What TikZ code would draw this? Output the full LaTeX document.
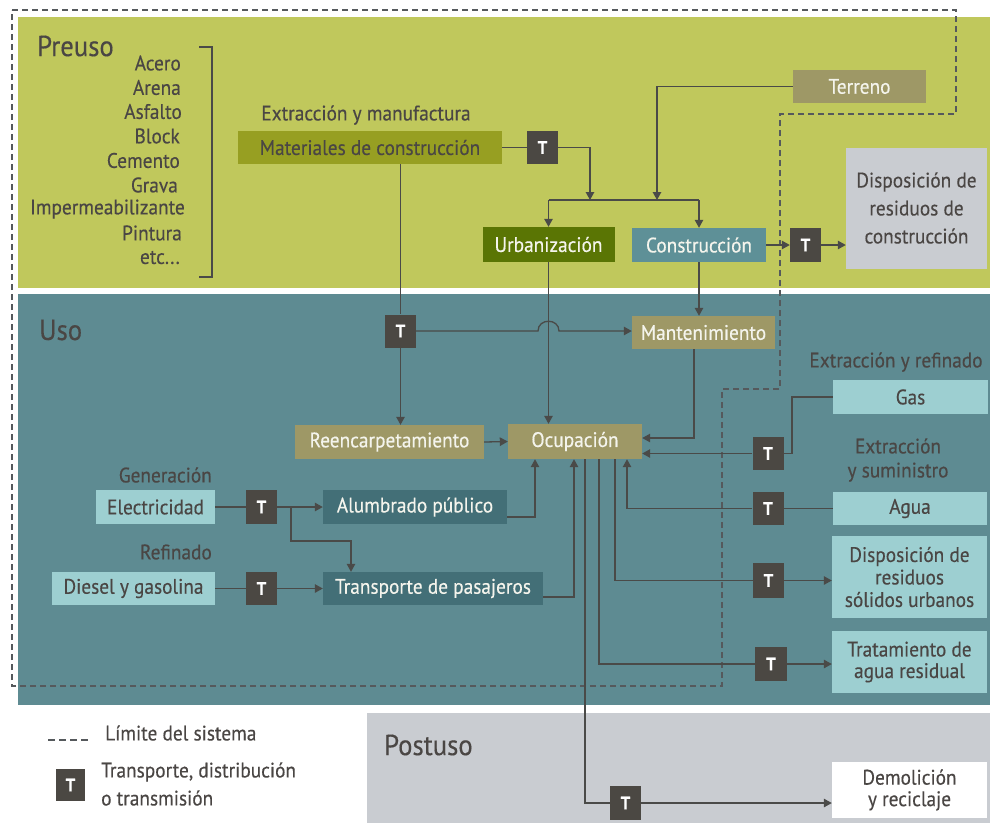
\documentclass[tikz,border=0pt]{standalone}
\usepackage{fontspec}
\setmainfont[FakeStretch=0.92,FakeBold=0.35]{PT Sans}
\usetikzlibrary{arrows.meta}

\definecolor{preuso}{HTML}{C0C85C}
\definecolor{uso}{HTML}{5E8B92}
\definecolor{postuso}{HTML}{C9CCD1}
\definecolor{olive}{HTML}{979F22}
\definecolor{darkgreen}{HTML}{5A7504}
\definecolor{khaki}{HTML}{9E9866}
\definecolor{tealbox}{HTML}{5E9097}
\definecolor{darkteal}{HTML}{436F77}
\definecolor{lightteal}{HTML}{9DCFD1}
\definecolor{tgray}{HTML}{4B4843}
\definecolor{lgray}{HTML}{4A4A48}
\definecolor{ink}{HTML}{4A4644}
\definecolor{paper}{HTML}{F4F4EC}
\definecolor{bound}{HTML}{55595C}

\newcommand\fsz{\fontsize{21}{24}\selectfont}
\newcommand\tsz{\fontsize{18}{20}\selectfont\bfseries}
\newcommand\hsz{\fontsize{29}{32}\selectfont}

\begin{document}
\begin{tikzpicture}[x=1pt,y=-1pt,
  line/.style={draw=lgray, line width=1.3pt},
  arr/.style={line, -{Triangle[length=8pt,width=8.5pt]}},
  lbl/.style={font=\fsz, text=ink, inner sep=0pt},
  title/.style={font=\hsz, text=ink, inner sep=0pt, anchor=west},
  box/.style={rectangle, inner sep=0pt, font=\fsz, align=center},
  darktext/.style={box, text=ink},
  lighttext/.style={box, text=paper},
  tbox/.style={rectangle, inner sep=0pt, fill=tgray, text=white, font=\tsz,
    minimum width=31, minimum height=33},
  boundary/.style={draw=bound, line width=1.3pt, dash pattern=on 6pt off 4pt}
]
\useasboundingbox (0,0) rectangle (992,823);

% stage backgrounds
\fill[preuso] (18,17) rectangle (990,288);
\fill[uso] (18,294) rectangle (990,705);
\fill[postuso] (367,713) rectangle (990,823);

% system boundary
\draw[boundary] (12,10) -- (956,10) -- (956,114) -- (780,114) -- (780,389)
  -- (722,389) -- (722,686) -- (12,686) -- cycle;

% stage titles
\node[title] (preusoL) at (37,46) {Preuso};
\node[title] (usoL) at (39,330) {Uso};
\node[title] (postusoL) at (384,745) {Postuso};

% construction materials list
\node[lbl,anchor=east] (m0) at (181,63) {Acero};
\node[lbl,anchor=east] (m1) at (181,87.5) {Arena};
\node[lbl,anchor=east] (m2) at (182,111.5) {Asfalto};
\node[lbl,anchor=east] (m3) at (180,136) {Block};
\node[lbl,anchor=east] (m4) at (180,160.5) {Cemento};
\node[lbl,anchor=east] (m5) at (178,185) {Grava};
\node[lbl,anchor=east] (m6) at (185,209) {Impermeabilizante};
\node[lbl,anchor=east] (m7) at (182,233) {Pintura};
\node[lbl,anchor=east] (m8) at (180,257.5) {etc...};
\draw[line] (199,47) -- (212,47) -- (212,277) -- (199,277);

% pre-use stage
\node[lbl] (extman) at (366,115) {Extracción y manufactura};
\node[darktext, fill=olive, minimum width=264, minimum height=33] (mat) at (370,147.5) {Materiales de construcción};
\node[tbox] (t1) at (542.5,147.5) {T};
\node[lighttext, fill=khaki, minimum width=133, minimum height=33] (terreno) at (859.5,86.5) {Terreno};
\node[lighttext, fill=darkgreen, minimum width=132, minimum height=35] (urb) at (548.5,244.5) {Urbanización};
\node[lighttext, fill=tealbox, minimum width=134, minimum height=34] (constr) at (699,245) {Construcción};
\node[tbox, minimum height=34] (t2) at (805.5,245) {T};
\node[darktext, fill=postuso, minimum width=141, minimum height=121,
  font=\fontsize{21}{28}\selectfont] (dispc) at (916.5,208) {Disposición de\\residuos de\\construcción};

% use stage
\node[tbox] (t3) at (400.5,331) {T};
\node[lighttext, fill=khaki, minimum width=143, minimum height=33] (mant) at (703.5,332.5) {Mantenimiento};
\node[lbl] (extref) at (896,362) {Extracción y refinado};
\node[darktext, fill=lightteal, minimum width=155, minimum height=34] (gas) at (910.5,397) {Gas};
\node[lighttext, fill=khaki, minimum width=189, minimum height=34] (reenc) at (389.5,442) {Reencarpetamiento};
\node[lighttext, fill=khaki, minimum width=134, minimum height=35] (ocup) at (575,441.5) {Ocupación};
\node[tbox] (tgas) at (768,453.5) {T};
\node[lbl, align=center, font=\fontsize{21}{24}\selectfont] (extsum) at (898,460) {Extracción\\y suministro};
\node[lbl, anchor=east] (gen) at (212,475) {Generación};
\node[darktext, fill=lightteal, minimum width=119, minimum height=34] (elec) at (155.5,507) {Electricidad};
\node[tbox, minimum height=34] (telec) at (261.5,507) {T};
\node[lighttext, fill=darkteal, minimum width=184, minimum height=34] (alum) at (415,507) {Alumbrado público};
\node[darktext, fill=lightteal, minimum width=154, minimum height=33] (agua) at (910,508.5) {Agua};
\node[tbox] (tagua) at (768,508.5) {T};
\node[lbl, anchor=east] (ref) at (212,552) {Refinado};
\node[darktext, fill=lightteal, minimum width=163, minimum height=33] (diesel) at (133.5,588.5) {Diesel y gasolina};
\node[tbox] (tdies) at (261.5,588.5) {T};
\node[lighttext, fill=darkteal, minimum width=220, minimum height=33] (transp) at (433,588.5) {Transporte de pasajeros};
\node[darktext, fill=lightteal, minimum width=155, minimum height=82,
  font=\fontsize{21}{22.5}\selectfont] (dispr) at (909.5,577) {Disposición de\\residuos\\sólidos urbanos};
\node[tbox, minimum height=35] (tdisp) at (768.5,580.5) {T};
\node[darktext, fill=lightteal, minimum width=155, minimum height=62,
  font=\fontsize{21}{21.5}\selectfont] (trat) at (909.5,662) {Tratamiento de\\agua residual};
\node[tbox, minimum width=32, minimum height=34] (ttrat) at (771,664) {T};

% post-use stage
\node[darktext, fill=white, minimum width=155, minimum height=56,
  font=\fontsize{21}{21.5}\selectfont] (demol) at (909.5,790) {Demolición\\y reciclaje};
\node[tbox, minimum height=34] (tdem) at (625.5,803) {T};

% legend
\draw[draw=bound, line width=1.3pt, dash pattern=on 7pt off 4pt] (48,740) -- (88,740);
\node[lbl, anchor=west] (legB) at (105,733) {Límite del sistema};
\node[tbox, minimum width=29, minimum height=32] (legT) at (70.5,785) {T};
\node[lbl, anchor=west, align=left, font=\fontsize{21}{28}\selectfont] (legTtext) at (101,784) {Transporte, distribución\\o transmisión};

% pre-use connectors
\coordinate (hl) at (548.5,200);
\coordinate (hr) at (699,200);
\coordinate (mj) at (590,200);
\coordinate (tj) at (657,200);
\draw[line] (mat.east) -- (t1.west);
\draw[arr] (t1.east) -| (mj);
\draw[arr] (terreno.west) -| (tj);
\draw[line] (hl) -- (hr);
\draw[arr] (hl) -- (urb.north);
\draw[arr] (hr) -- (constr.north);
\draw[arr] (constr.east) -- (t2.west);
\draw[arr] (t2.east) -- (t2.east -| dispc.west);

% use connectors
\draw[line] (t3.north |- mat.south) -- (t3.north);
\draw[arr] (t3.south) -- (t3.south |- reenc.north);
\draw[arr] (t3.east) -- (538,331) .. controls (538,318) and (559,318) .. (559,331) -- (mant.west |- t3.east);
\draw[arr] (constr.south) -- (constr.south |- mant.north);
\draw[arr] (urb.south) -- (urb.south |- ocup.north);
\coordinate (mk) at (694,438);
\draw[arr] (mant.south -| mk) -- (mk) -- (mk -| ocup.east);
\draw[arr] (reenc.east) -- (ocup.west);
\coordinate (gk) at (792,453.5);
\draw[line] (gas.west) -| (gk) -- (tgas.east);
\draw[arr] (tgas.west) -- (tgas.west -| ocup.east);
\coordinate (ak) at (627,508.5);
\draw[line] (agua.west) -- (tagua.east);
\draw[arr] (tagua.west) -- (ak) -- (ak |- ocup.south);
\coordinate (dk) at (615,580.5);
\draw[line] (dk |- ocup.south) -- (dk) -- (tdisp.west);
\draw[arr] (tdisp.east) -- (tdisp.east -| dispr.west);
\coordinate (rk) at (599,664);
\draw[line] (rk |- ocup.south) -- (rk) -- (ttrat.west);
\draw[arr] (ttrat.east) -- (ttrat.east -| trat.west);
\coordinate (ek) at (585,803);
\draw[line] (ek |- ocup.south) -- (ek) -- (tdem.west);
\draw[arr] (tdem.east) -- (tdem.east -| demol.west);

\draw[line] (elec.east) -- (telec.west);
\draw[arr] (telec.east) -- (alum.west);
\coordinate (b1) at (291,507);
\coordinate (b2) at (351,541);
\draw[arr] (b1) |- (b2) -- (b2 |- transp.north);
\coordinate (al) at (535,517);
\draw[arr] (alum.east |- al) -- (al) -- (al |- ocup.south);
\draw[line] (diesel.east) -- (tdies.west);
\draw[arr] (tdies.east) -- (transp.west);
\coordinate (tp) at (574,597);
\draw[arr] (transp.east |- tp) -- (tp) -- (tp |- ocup.south);
\end{tikzpicture}
\end{document}
